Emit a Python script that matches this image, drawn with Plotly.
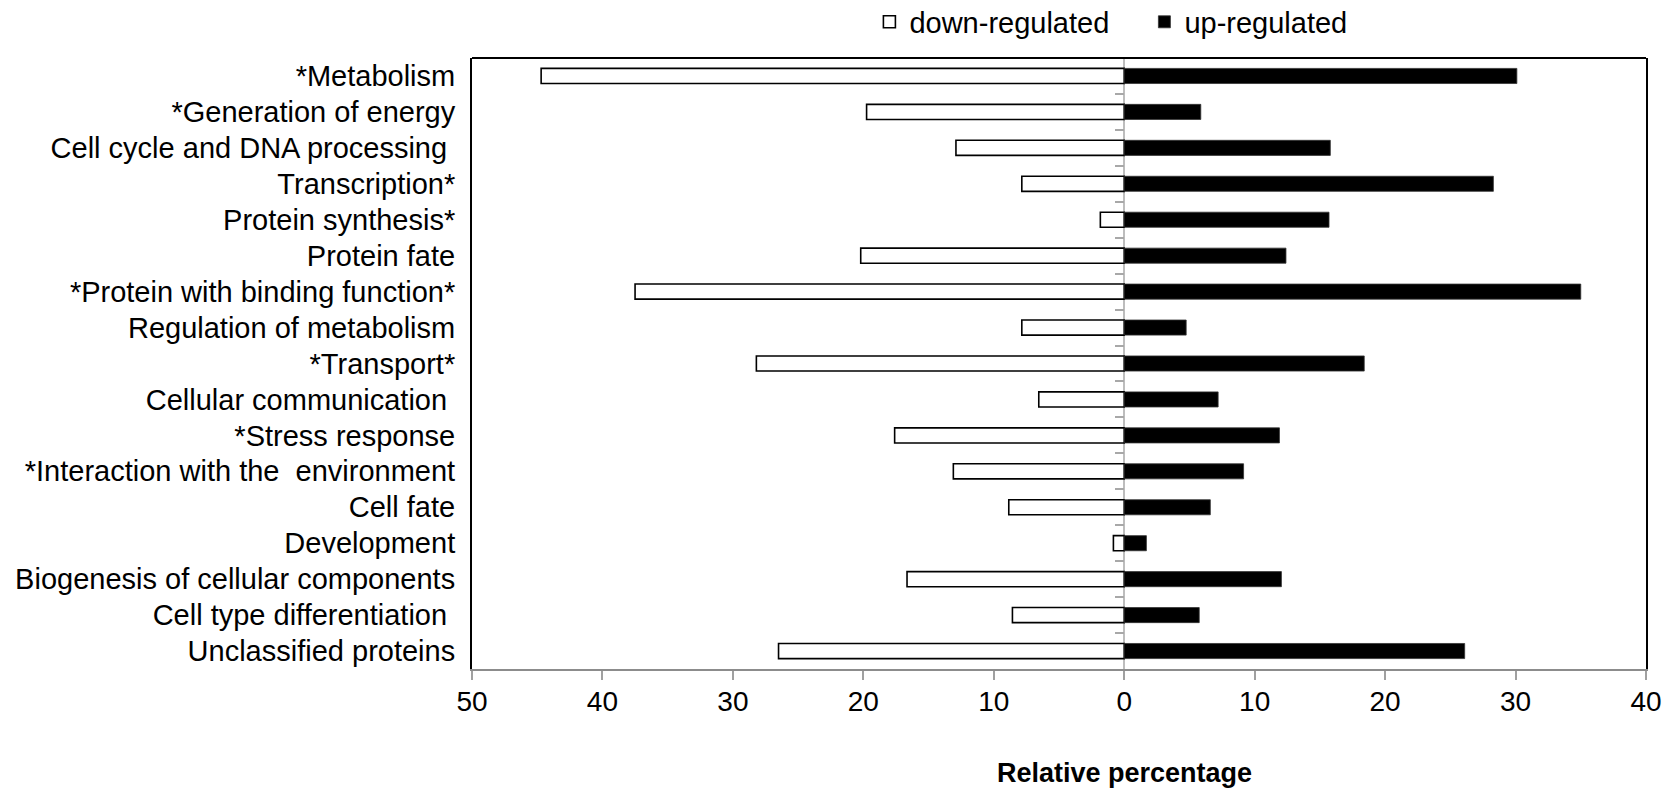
import plotly.graph_objects as go

categories = [
    "*Metabolism",
    "*Generation of energy",
    "Cell cycle and DNA processing\u00a0",
    "Transcription*",
    "Protein synthesis*",
    "Protein fate",
    "*Protein with binding function*",
    "Regulation of metabolism",
    "*Transport*",
    "Cellular communication\u00a0",
    "*Stress response",
    "*Interaction with the\u00a0 environment",
    "Cell fate",
    "Development",
    "Biogenesis of cellular components",
    "Cell type differentiation\u00a0",
    "Unclassified proteins",
]
down_regulated = [44.7, 19.75, 12.9, 7.85, 1.83, 20.2, 37.5, 7.85, 28.2, 6.55,
                  17.6, 13.1, 8.85, 0.83, 16.65, 8.57, 26.5]
up_regulated = [30.1, 5.87, 15.8, 28.3, 15.7, 12.4, 35.0, 4.75, 18.4, 7.2,
                11.9, 9.15, 6.6, 1.7, 12.05, 5.75, 26.1]
tick_values = [-50, -40, -30, -20, -10, 0, 10, 20, 30, 40]
tick_labels = ["50", "40", "30", "20", "10", "0", "10", "20", "30", "40"]

FONT = "Liberation Sans, Arial, sans-serif"
x_min, x_max = -50, 40
n = len(categories)

fig = go.Figure()
fig.add_trace(go.Bar(
    y=categories, x=[-v for v in down_regulated], orientation="h",
    name="down-regulated", width=0.42,
    marker=dict(color="white", line=dict(color="black", width=1.6)),
))
fig.add_trace(go.Bar(
    y=categories, x=up_regulated, orientation="h",
    name="up-regulated", width=0.42,
    marker=dict(color="black", line=dict(color="#333333", width=0.8)),
))
# invisible helper trace for the tick marks along the zero line
fig.add_trace(go.Scatter(x=[None], y=[None], xaxis="x", yaxis="y2",
                         showlegend=False, hoverinfo="skip"))

fig.update_layout(
    width=1670, height=789,
    margin=dict(l=472, r=24, t=58, b=120, autoexpand=False),
    paper_bgcolor="white", plot_bgcolor="white",
    barmode="overlay",
    font=dict(family=FONT, size=28, color="black"),
    showlegend=True,
    legend=dict(orientation="h", x=0.3385, y=1.059, xanchor="left", yanchor="middle",
                font=dict(size=29), itemwidth=30, entrywidth=230, entrywidthmode="pixels",
                traceorder="normal", bgcolor="rgba(0,0,0,0)"),
    xaxis=dict(
        range=[x_min, x_max], tickvals=tick_values, ticktext=tick_labels,
        showgrid=False, zeroline=True, zerolinecolor="#bdbdbd", zerolinewidth=2,
        showline=True, linecolor="#8c8c8c", linewidth=2,
        ticks="outside", ticklen=9, tickwidth=1.5, tickcolor="#a0a0a0",
        tickfont=dict(size=28), ticklabelstandoff=-3,
    ),
    yaxis=dict(
        type="category", categoryorder="array", categoryarray=categories,
        range=[n - 0.5, -0.5], showgrid=False, zeroline=False,
        showline=True, mirror=True, linecolor="black", linewidth=2,
        ticks="", tickfont=dict(size=29), ticklabelstandoff=9,
    ),
    yaxis2=dict(
        overlaying="y", anchor="free", side="left",
        position=(0 - x_min) / (x_max - x_min),
        range=[n - 0.5, -0.5], tickvals=[i + 0.5 for i in range(n - 1)],
        ticks="outside", ticklen=9, tickwidth=1.5, tickcolor="#a8a8a8",
        showticklabels=False, showgrid=False, zeroline=False, showline=False,
    ),
    shapes=[dict(type="line", xref="paper", yref="paper", x0=0, x1=1, y0=1, y1=1,
                 line=dict(color="black", width=2))],
    annotations=[dict(text="<b>Relative percentage</b>", x=0, xref="x",
                      y=-0.1696, yref="paper", yanchor="middle", xanchor="center",
                      showarrow=False, font=dict(size=27))],
)

fig.write_html("out.html", config={"displayModeBar": False},
               post_script="document.body.style.margin='0';document.body.style.overflow='hidden';")
